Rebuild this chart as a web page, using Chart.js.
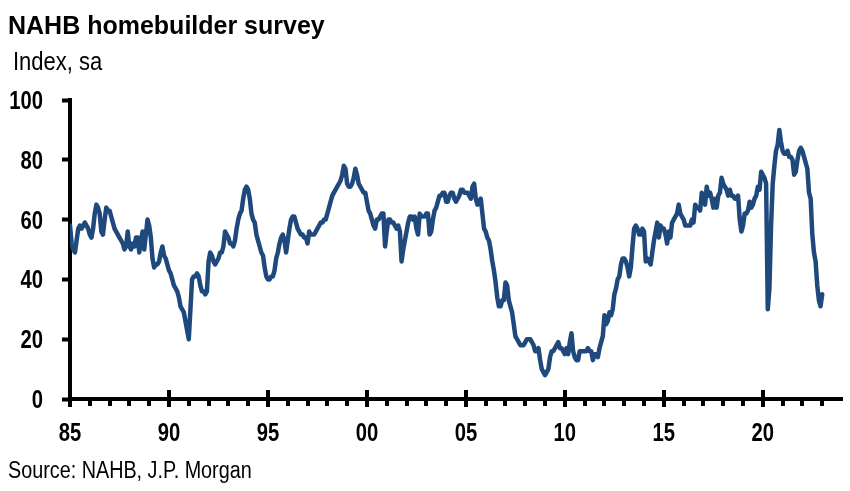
<!DOCTYPE html>
<html>
<head>
<meta charset="utf-8">
<script src="https://cdn.jsdelivr.net/npm/chart.js@4.4.0/dist/chart.umd.min.js"></script>
<style>
html,body{margin:0;padding:0;background:#fff;width:850px;height:491px;overflow:hidden;}
#wrap{position:relative;width:850px;height:491px;}
canvas{position:absolute;left:0;top:0;}
.t{position:absolute;white-space:nowrap;color:#000;line-height:1;transform-origin:left top;}
#title{left:8px;top:11px;font:bold 25px 'Liberation Sans',Arial,sans-serif;}
#sub{left:13px;top:47px;font:25px 'Liberation Sans',Arial,sans-serif;transform:scaleX(0.88);}
#src{left:8px;top:457px;font:23px 'Liberation Sans',Arial,sans-serif;transform:scaleX(0.86);}
</style>
</head>
<body>
<div id="wrap">
<canvas id="c" width="850" height="491"></canvas>
<div class="t" id="title">NAHB homebuilder survey</div>
<div class="t" id="sub">Index, sa</div>
<div class="t" id="src">Source: NAHB, J.P. Morgan</div>
</div>
<script>
// Monthly NAHB housing market index (sa), starting Jan 1985
const startYear = 1985;
const v1985_1989 = [
  58,52,50,49,53,57,58,57,58,59,58,57,
  55,54,57,62,65,64,62,56,55,60,64,63,
  63,61,59,57,56,55,54,53,52,50,51,56,
  51,50,52,51,54,54,49,53,56,50,55,60,
  58,54,47,44,45,45,46,49,51,48,47,45];
const v1990_1994 = [
  43,42,40,38,37,36,34,31,30,29,26,23,
  20,30,40,41,41,42,41,38,36,36,35,36,
  46,49,48,46,45,46,47,49,49,51,56,55,
  54,52,52,51,53,57,60,62,63,67,70,71,
  70,67,62,60,59,55,53,51,49,48,44,41];
const v1995_1999 = [
  40,40,41,41,43,47,49,52,54,55,53,49,
  53,57,60,61,61,59,57,56,55,55,54,54,
  52,56,55,55,55,56,57,58,59,59,60,60,
  62,64,66,68,69,70,71,72,73,75,78,77,
  72,71,71,72,74,77,75,72,71,70,69,69];
const v2000_2004 = [
  66,63,62,60,58,57,60,60,61,62,62,51,
  56,60,60,59,59,58,57,58,56,46,50,53,
  56,59,61,61,60,61,57,55,62,61,61,61,
  62,62,55,56,60,63,64,66,68,68,69,69,
  66,66,68,69,69,67,66,67,68,70,70,69];
const v2005_2009 = [
  69,69,68,67,71,72,67,65,66,67,62,57,
  56,54,53,50,46,43,39,34,31,31,33,33,
  39,38,33,31,29,25,21,20,19,18,18,18,
  19,20,20,20,19,18,16,16,17,13,10,9,
  8,9,10,14,16,16,17,18,19,17,17,16];
const v2010_2014 = [
  15,17,15,19,22,16,14,13,13,16,16,16,
  16,16,17,16,16,13,15,15,14,17,19,21,
  28,25,26,29,28,30,35,37,40,41,45,47,
  47,46,44,41,44,51,57,58,57,55,55,57,
  56,46,47,46,45,49,53,56,59,54,58,57];
const v2015_2019 = [
  57,55,52,56,54,59,60,61,62,65,62,61,
  60,58,58,58,58,60,59,65,64,64,63,69,
  67,65,71,68,69,67,64,67,64,68,69,74,
  72,71,70,68,70,68,68,67,67,68,60,56,
  58,62,62,63,66,64,65,67,68,71,70,76];
const v2020_2023 = [
  75,74,72,30,37,58,72,78,83,85,90,86,
  83,82,82,83,81,81,80,75,76,80,83,84,
  83,81,79,77,69,67,55,49,46,38,33,31,
  35];

const xTickYears  = [1985,1990,1995,2000,2005,2010,2015,2020];
const xTickLabels = ['85','90','95','00','05','10','15','20'];
const yTicks = [0,20,40,60,80,100];
const yTickLabels = ['0','20','40','60','80','100'];
const xMin = 1985, xMax = 2024;

const hmi = [].concat(v1985_1989, v1990_1994, v1995_1999, v2000_2004,
                      v2005_2009, v2010_2014, v2015_2019, v2020_2023);
const points = hmi.map((v,i)=>({x: startYear + i/12, y: v}));

const LABEL_FONT = "bold 25px 'Liberation Sans', Arial, sans-serif";
const NARROW = 0.81;

// Draws x-axis tick marks (major ones cross the axis) and narrow-style axis labels
const axisPlugin = {
  id:'axisDeco',
  afterDraw(chart){
    const {ctx, scales:{x, y}, chartArea} = chart;
    const y0 = chartArea.bottom;
    ctx.save();
    ctx.strokeStyle = '#000';
    ctx.lineWidth = 4;
    for (let yr = xMin; yr < xMax; yr++) {
      const px = Math.round(x.getPixelForValue(yr));
      ctx.beginPath();
      if (xTickYears.includes(yr)) { ctx.moveTo(px, y0 - 9); ctx.lineTo(px, y0 + 8); }
      else { ctx.moveTo(px, y0); ctx.lineTo(px, y0 + 7); }
      ctx.stroke();
    }
    ctx.fillStyle = '#000';
    ctx.font = LABEL_FONT;
    ctx.textBaseline = 'alphabetic';
    xTickYears.forEach((yr, i) => {
      ctx.save();
      ctx.translate(x.getPixelForValue(yr), y0 + 42);
      ctx.scale(NARROW, 1);
      ctx.textAlign = 'center';
      ctx.fillText(xTickLabels[i], 0, 0);
      ctx.restore();
    });
    yTicks.forEach((v, i) => {
      ctx.save();
      ctx.translate(chartArea.left - 27, y.getPixelForValue(v) + 9);
      ctx.scale(NARROW, 1);
      ctx.textAlign = 'right';
      ctx.fillText(yTickLabels[i], 0, 0);
      ctx.restore();
    });
    ctx.restore();
  }
};

new Chart(document.getElementById('c'), {
  type: 'line',
  data: { datasets: [{
    data: points,
    borderColor: '#1F497D',
    borderWidth: 4.5,
    pointRadius: 0,
    tension: 0,
    borderJoinStyle: 'round',
    borderCapStyle: 'round',
    fill: false
  }]},
  options: {
    responsive: false,
    animation: false,
    devicePixelRatio: 1,
    layout: { padding: { top: 100, left: 0, right: 8, bottom: 0 } },
    plugins: { legend: {display:false}, tooltip: {enabled:false}, title:{display:false} },
    scales: {
      x: {
        type: 'linear', min: xMin, max: xMax,
        afterBuildTicks: s => { s.ticks = xTickYears.map(v => ({value: v})); },
        afterFit: s => { s.height = 92; },
        ticks: { display: false },
        grid: { display: false, drawTicks: false },
        border: { display: true, color: '#000', width: 4 }
      },
      y: {
        min: 0, max: 100,
        afterBuildTicks: s => { s.ticks = yTicks.map(v => ({value: v})); },
        afterFit: s => { s.width = 70; },
        ticks: { display: false },
        grid: { display: true, drawOnChartArea: false, drawTicks: true, tickLength: 8, tickWidth: 4, tickColor: '#000' },
        border: { display: true, color: '#000', width: 4 }
      }
    }
  },
  plugins: [axisPlugin]
});
</script>
</body>
</html>
